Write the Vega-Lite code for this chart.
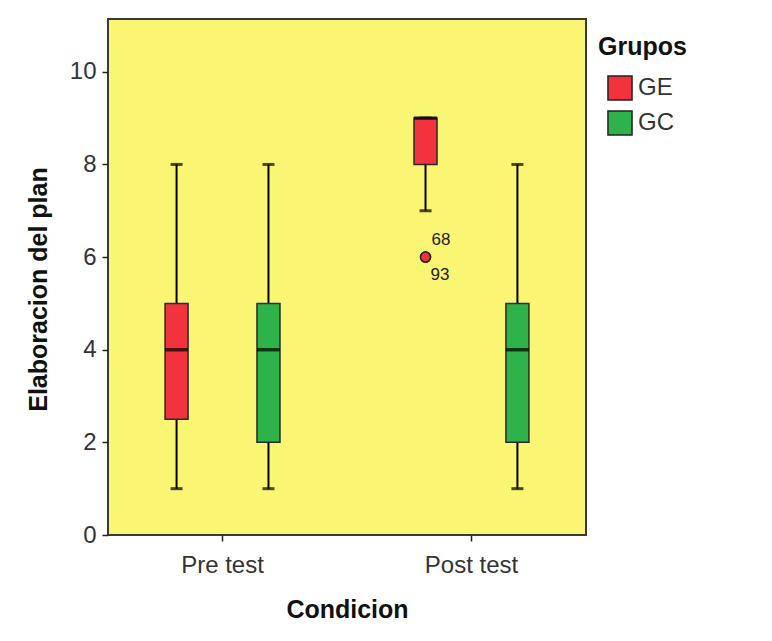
{
  "$schema": "https://vega.github.io/schema/vega-lite/v6.json",
  "width": 478,
  "height": 516,
  "autosize": {"type": "none"},
  "padding": {"left": 108, "top": 19, "right": 186, "bottom": 106},
  "background": "white",
  "datasets": {
    "boxes": [
      {"cond": "Pre test", "grupo": "GE", "lower": 1, "q1": 2.5, "median": 4, "q3": 5, "upper": 8},
      {"cond": "Pre test", "grupo": "GC", "lower": 1, "q1": 2, "median": 4, "q3": 5, "upper": 8},
      {"cond": "Post test", "grupo": "GE", "lower": 7, "q1": 8, "median": 9, "q3": 9, "upper": 9},
      {"cond": "Post test", "grupo": "GC", "lower": 1, "q1": 2, "median": 4, "q3": 5, "upper": 8}
    ],
    "outliers": [
      {"cond": "Post test", "grupo": "GE", "value": 6, "label": "68"},
      {"cond": "Post test", "grupo": "GE", "value": 6, "label": "93"}
    ]
  },
  "encoding": {
    "x": {
      "field": "cond", "type": "nominal", "sort": ["Pre test", "Post test"],
      "scale": {"paddingInner": 0.1, "paddingOuter": 0.01},
      "axis": {"title": "Condicion", "labelAngle": 0}
    },
    "xOffset": {
      "field": "grupo", "type": "nominal", "sort": ["GE", "GC"],
      "scale": {"paddingInner": 0, "paddingOuter": 0.219}
    }
  },
  "layer": [
    {
      "data": {"name": "boxes"},
      "mark": {"type": "rule", "color": "black", "strokeWidth": 2},
      "encoding": {
        "y": {"field": "lower", "type": "quantitative", "scale": {"domain": [0, 11.14], "nice": false},
              "axis": {"title": "Elaboracion del plan", "values": [0, 2, 4, 6, 8, 10], "titleY": 270}},
        "y2": {"field": "upper"}
      }
    },
    {
      "data": {"name": "boxes"},
      "mark": {"type": "tick", "color": "black", "size": 12, "thickness": 3, "orient": "horizontal"},
      "encoding": {"y": {"field": "lower", "type": "quantitative"}}
    },
    {
      "data": {"name": "boxes"},
      "mark": {"type": "tick", "color": "black", "size": 12, "thickness": 3, "orient": "horizontal"},
      "encoding": {"y": {"field": "upper", "type": "quantitative"}}
    },
    {
      "data": {"name": "boxes"},
      "mark": {"type": "bar", "size": 23, "stroke": "#2a2a2a", "strokeWidth": 1.5},
      "encoding": {
        "y": {"field": "q1", "type": "quantitative"},
        "y2": {"field": "q3"},
        "fill": {
          "field": "grupo", "type": "nominal", "sort": ["GE", "GC"],
          "scale": {"domain": ["GE", "GC"], "range": ["#F2323D", "#2DB34A"]},
          "legend": {"title": "Grupos"}
        }
      }
    },
    {
      "data": {"name": "boxes"},
      "mark": {"type": "tick", "color": "black", "size": 23, "thickness": 3.5, "orient": "horizontal"},
      "encoding": {"y": {"field": "median", "type": "quantitative"}}
    },
    {
      "data": {"name": "outliers"},
      "mark": {"type": "point", "shape": "circle", "filled": true, "fill": "#F2323D", "stroke": "#222", "strokeWidth": 1.5, "size": 100, "opacity": 1},
      "encoding": {"y": {"field": "value", "type": "quantitative"}}
    },
    {
      "data": {"name": "outliers"},
      "transform": [{"filter": "datum.label === '68'"}],
      "mark": {"type": "text", "align": "left", "baseline": "middle", "dx": 6, "dy": -17, "fontSize": 17, "font": "Liberation Sans", "color": "#222"},
      "encoding": {"y": {"field": "value", "type": "quantitative"}, "text": {"field": "label"}}
    },
    {
      "data": {"name": "outliers"},
      "transform": [{"filter": "datum.label === '93'"}],
      "mark": {"type": "text", "align": "left", "baseline": "middle", "dx": 5, "dy": 18, "fontSize": 17, "font": "Liberation Sans", "color": "#222"},
      "encoding": {"y": {"field": "value", "type": "quantitative"}, "text": {"field": "label"}}
    }
  ],
  "config": {
    "view": {"fill": "#FAF674", "stroke": "#3a3a3a", "strokeWidth": 2},
    "axis": {
      "grid": false,
      "domain": false,
      "tickColor": "#222",
      "tickSize": 6,
      "tickWidth": 1.5,
      "labelFont": "Liberation Sans",
      "labelFontSize": 24,
      "labelColor": "#333",
      "titleFont": "Liberation Sans",
      "titleFontSize": 25,
      "titleFontWeight": "bold",
      "titleColor": "#111"
    },
    "axisX": {"labelPadding": 12, "titlePadding": 20},
    "axisY": {"labelPadding": 6, "titlePadding": 18},
    "legend": {
      "orient": "none",
      "legendX": 490,
      "legendY": 16,
      "padding": 0,
      "titleFont": "Liberation Sans",
      "titleFontSize": 25,
      "titleFontWeight": "bold",
      "titleColor": "#111",
      "titlePadding": 15,
      "labelFont": "Liberation Sans",
      "labelFontSize": 24,
      "labelColor": "#333",
      "labelOffset": 5,
      "symbolType": "square",
      "symbolSize": 580,
      "symbolStrokeColor": "#222",
      "symbolStrokeWidth": 1.5,
      "symbolOffset": 9,
      "rowPadding": 3
    }
  }
}
